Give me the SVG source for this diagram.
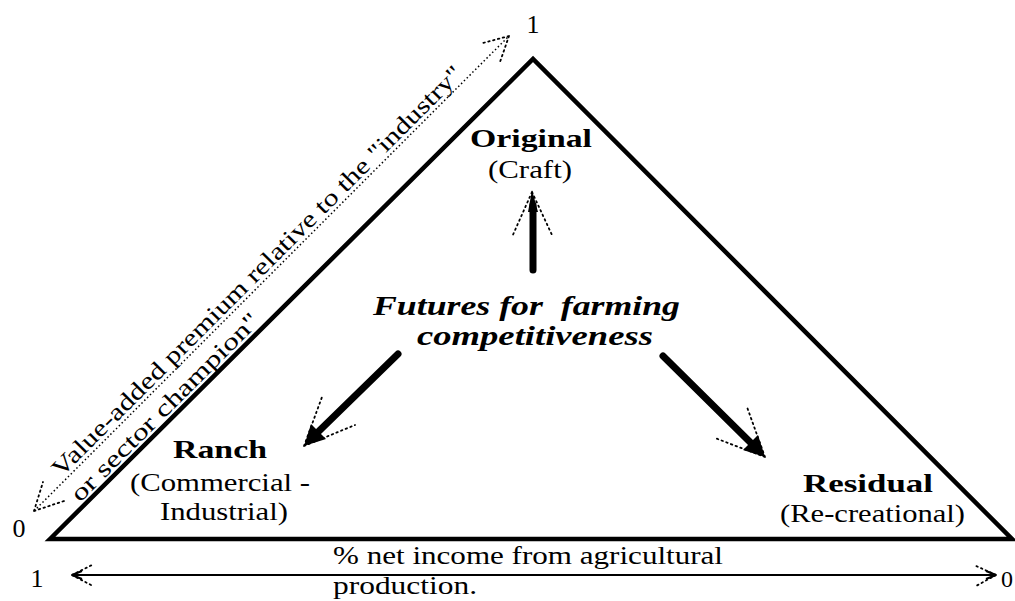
<svg xmlns="http://www.w3.org/2000/svg" width="1015" height="601" viewBox="0 0 1015 601">
  <style>
    text { font-family: "Liberation Serif", "Times New Roman", serif; fill: #000; }
    .lbl { font-size: 26px; }
    .bold { font-size: 26px; font-weight: bold; }
    .theme { font-size: 27px; font-weight: bold; font-style: italic; }
    .axis { font-size: 24px; }
    .tri { fill: none; stroke: #000; stroke-width: 4.5; stroke-linejoin: miter; }
    .thin { fill: none; stroke: #000; stroke-width: 2; }
    .dot { fill: none; stroke: #000; stroke-width: 1.5; stroke-dasharray: 1.5 2.5; }
    .dot2 { fill: none; stroke: #000; stroke-width: 1.8; stroke-dasharray: 1.5 3.5; stroke-linecap: round; }
    .shaft { fill: none; stroke: #000; stroke-width: 7; stroke-linecap: round; }
    .head { fill: #000; stroke: none; }
  </style>

  <!-- main triangle -->
  <g id="triangle">
    <polygon class="tri" points="50,539 533,59 1012,539"/>
  </g>

  <!-- corner values -->
  <g id="scale-labels">
    <text class="lbl" x="533" y="33" text-anchor="middle">1</text>
    <text class="lbl" x="19" y="537" text-anchor="middle">0</text>
    <text class="lbl" x="37" y="587" text-anchor="middle">1</text>
    <text class="lbl" x="1001" y="587" style="font-size:24px">0</text>
  </g>

  <g id="node-original">
    <text class="bold" x="470" y="147" textLength="122" lengthAdjust="spacingAndGlyphs">Original</text>
    <text class="lbl" x="488" y="178" textLength="84" lengthAdjust="spacingAndGlyphs">(Craft)</text>
  </g>

  <g id="node-futures">
    <text class="theme" x="373" y="315" textLength="307" lengthAdjust="spacingAndGlyphs" xml:space="preserve">Futures for  farming</text>
    <text class="theme" x="417" y="345" textLength="236" lengthAdjust="spacingAndGlyphs">competitiveness</text>
  </g>

  <g id="node-ranch">
    <text class="bold" x="173" y="458" textLength="94" lengthAdjust="spacingAndGlyphs">Ranch</text>
    <text class="lbl" x="130" y="491" textLength="180" lengthAdjust="spacingAndGlyphs">(Commercial -</text>
    <text class="lbl" x="160" y="520" textLength="128" lengthAdjust="spacingAndGlyphs">Industrial)</text>
  </g>

  <g id="node-residual">
    <text class="bold" x="803" y="492" textLength="130" lengthAdjust="spacingAndGlyphs">Residual</text>
    <text class="lbl" x="780" y="522" textLength="185" lengthAdjust="spacingAndGlyphs">(Re-creational)</text>
  </g>

  <!-- axis captions -->
  <g id="axis-income">
    <text class="lbl" x="333" y="564" textLength="390" lengthAdjust="spacingAndGlyphs">% net income from agricultural</text>
    <text class="lbl" x="333" y="594" textLength="144" lengthAdjust="spacingAndGlyphs">production.</text>
  </g>

  <g id="axis-premium">
    <text class="axis" transform="translate(61,478) rotate(-45)" textLength="570" lengthAdjust="spacingAndGlyphs">Value-added premium relative to the "industry"</text>
    <text class="axis" transform="translate(80,503) rotate(-45)" textLength="256" lengthAdjust="spacingAndGlyphs">or sector champion"</text>
  </g>

  <g id="connectors">
    <!-- diagonal premium axis (dotted, both ends) -->
    <line class="dot" x1="34" y1="511" x2="509" y2="36"/>
    <path class="dot2" d="M34,511 L64,501 M34,511 L43,482"/>
    <path class="dot2" d="M509,36 L483,43 M509,36 L500,62"/>

    <!-- bottom income axis (both ends) -->
    <line class="thin" x1="74" y1="575" x2="994" y2="575"/>
    <path class="dot2" d="M72,575 L92,565 M72,575 L91,585"/>
    <path class="dot2" d="M996,575 L974,565 M996,575 L976,586"/>
    <path class="thin" d="M72,575 L82,571 M72,575 L82,579 M996,575 L986,571 M996,575 L986,579"/>

    <!-- Futures -> Original -->
    <line class="shaft" x1="533" y1="270" x2="533" y2="205"/>
    <polygon class="head" points="532,190 538,212 528,212"/>
    <path class="dot2" d="M532,192 L512,237 M532,192 L552,235"/>

    <!-- Futures -> Ranch -->
    <line class="shaft" x1="398" y1="354" x2="318" y2="432"/>
    <polygon class="head" points="304,446 311,424 326,439"/>
    <path class="dot2" d="M304,446 L322,397 M304,446 L355,425"/>

    <!-- Futures -> Residual -->
    <line class="shaft" x1="663" y1="356" x2="751" y2="443"/>
    <polygon class="head" points="765,457 743,450 758,435"/>
    <path class="dot2" d="M765,457 L747,407 M765,457 L715,438"/>
  </g>
</svg>
